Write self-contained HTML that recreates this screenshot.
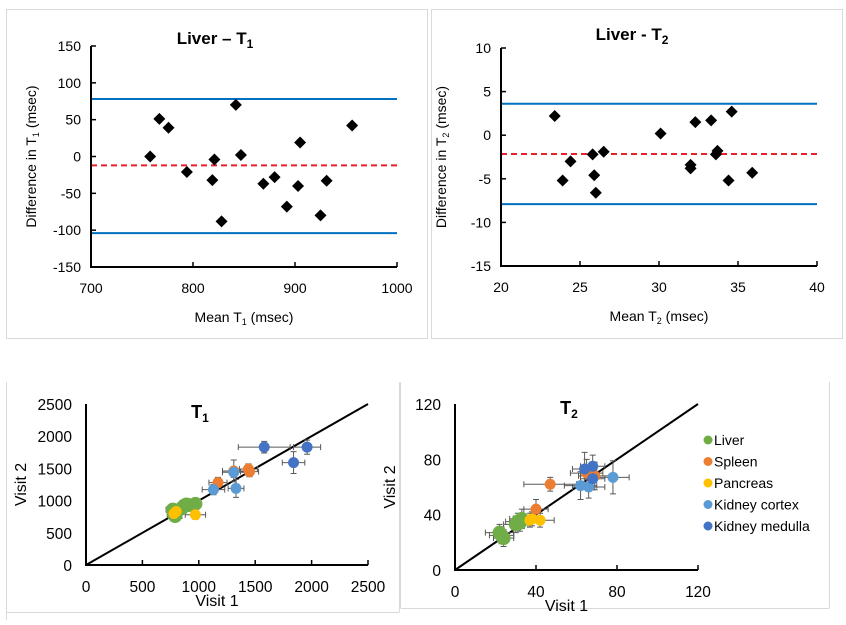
<!DOCTYPE html>
<html><head><meta charset="utf-8"><style>
body{margin:0;background:#fff;width:846px;height:620px;overflow:hidden;font-family:"Liberation Sans",Arial,sans-serif}
svg text{font-family:"Liberation Sans",Arial,sans-serif;fill:#000}
</style></head><body>
<svg id="fig" width="846" height="620" xmlns="http://www.w3.org/2000/svg">
<rect x="6.5" y="9.5" width="421" height="329" fill="none" stroke="#d9d9d9"/>
<rect x="431.5" y="9.5" width="411" height="329" fill="none" stroke="#d9d9d9"/>
<line x1="6.5" y1="382" x2="6.5" y2="620" stroke="#d9d9d9"/>
<line x1="399.5" y1="382" x2="399.5" y2="612" stroke="#d9d9d9"/>
<line x1="6.5" y1="612.5" x2="399.5" y2="612.5" stroke="#d9d9d9"/>
<line x1="400.5" y1="382" x2="400.5" y2="608" stroke="#d9d9d9"/>
<line x1="829.5" y1="382" x2="829.5" y2="608" stroke="#d9d9d9"/>
<line x1="400.5" y1="608.5" x2="829.5" y2="608.5" stroke="#d9d9d9"/>
<g id="g"></g>
</svg>
<script>
// Bland-Altman Liver T1
const baT1Mean=[758,767,776,794,819,821,828,842,847,869,880,892,903,905,925,931,956];
const baT1Diff=[0,51,39,-21,-32,-4,-88,70,2,-37,-28,-68,-40,19,-80,-33,42];
const baT1Limits=[78,-104];
const baT1Bias=[-12];
const baT1XTicks=[700,800,900,1000];
const baT1YTicks=[150,100,50,0,-50,-100,-150];
// Bland-Altman Liver T2
const baT2Mean=[23.4,23.9,24.4,25.8,25.9,26.0,26.5,30.1,32.0,32.0,32.3,33.3,33.7,33.6,34.4,34.6,35.9];
const baT2Diff=[2.2,-5.2,-3.0,-2.2,-4.6,-6.6,-1.9,0.2,-3.8,-3.4,1.5,1.7,-1.8,-2.2,-5.2,2.7,-4.3];
const baT2Limits=[3.6,-7.9];
const baT2Bias=[-2.15];
const baT2XTicks=[20,25,30,35,40];
const baT2YTicks=[10,5,0,-5,-10,-15];
// Visit correlation T1
const t1Organ=["Liver","Liver","Liver","Liver","Liver","Liver","Liver","Liver","Pancreas","Pancreas","Pancreas","Spleen","Spleen","Spleen","Spleen","Kidney cortex","Kidney cortex","Kidney cortex","Kidney medulla","Kidney medulla","Kidney medulla"];
const t1V1=[770,790,850,870,890,910,970,780,780,800,970,1170,1310,1440,1450,1130,1310,1330,1580,1960,1840];
const t1V2=[860,760,880,920,940,930,950,790,800,830,780,1280,1460,1490,1450,1170,1440,1190,1830,1830,1590];
const t1ErrX=[60,60,60,60,60,50,40,60,50,50,90,80,100,80,80,100,100,70,230,120,100];
const t1ErrY=[80,70,90,90,80,80,60,80,60,60,70,80,170,80,80,80,80,140,90,110,170];
const t1Ticks=[0,500,1000,1500,2000,2500];
// Visit correlation T2
const t2Organ=["Liver","Liver","Liver","Liver","Liver","Liver","Liver","Pancreas","Pancreas","Pancreas","Spleen","Spleen","Spleen","Spleen","Kidney cortex","Kidney cortex","Kidney cortex","Kidney medulla","Kidney medulla","Kidney medulla"];
const t2V1=[22,23,24,30,31,33,32,37,38,42,47,40,65,69,62,66,78,64,68,68];
const t2V2=[27,25,23,33,35,37,34,36,37,36,62,44,70,68,61,60,67,73,75,66];
const t2ErrX=[7,6,5,6,6,6,5,5,5,7,13,6,8,8,8,8,8,6,6,6];
const t2ErrY=[6,6,6,6,6,7,6,5,5,5,5,7,10,10,10,8,12,12,8,8];
const t2Ticks=[0,40,80,120];
const legendNames=["Liver","Spleen","Pancreas","Kidney cortex","Kidney medulla"];
const colors={"Liver":"#70ad47","Spleen":"#ed7d31","Pancreas":"#ffc000","Kidney cortex":"#5b9bd5","Kidney medulla":"#4472c4"};

const NS="http://www.w3.org/2000/svg";
const G=document.getElementById('g');
function mk(tag,attrs,parent){const e=document.createElementNS(NS,tag);for(const k in attrs)e.setAttribute(k,attrs[k]);(parent||G).appendChild(e);return e;}
function txt(s,x,y,size,anchor,parent){const t=mk('text',{x:x,y:y,'font-size':size,'text-anchor':anchor||'middle'},parent);t.textContent=s;return t;}
function lin(d0,d1,r0,r1){return v=>r0+(v-d0)/(d1-d0)*(r1-r0);}

function bland(name,mean,diff,limits,bias,xt,yt,L,R,T,B,title,sub,xlab,ylabSub,titleX,titleY){
  const g=mk('g',{});
  
  
  const X=lin(xt[0],xt[xt.length-1],L,R), Y=lin(yt[yt.length-1],yt[0],B,T);
  const tt=txt(title,titleX,titleY,17,'middle',g);tt.setAttribute('font-weight','bold');
  const ts=mk('tspan',{'font-size':12,dy:4},tt);ts.textContent=sub;
  
  limits.forEach(v=>{const l=mk('line',{x1:L,x2:R,y1:Y(v),y2:Y(v),stroke:'#0070c0','stroke-width':2},g);
    });
  bias.forEach(v=>{const l=mk('line',{x1:L,x2:R,y1:Y(v),y2:Y(v),stroke:'#e8202a','stroke-width':2,'stroke-dasharray':'6,4'},g);
    });
  const ax=mk('path',{d:`M${L},${T} V${B} H${R}`,fill:'none',stroke:'#000','stroke-width':2},g);
  
  yt.forEach(v=>{mk('line',{x1:L,x2:L+5,y1:Y(v),y2:Y(v),stroke:'#000','stroke-width':1.5},g);
    const t=txt(String(v),L-10,Y(v)+5,14,'end',g);});
  xt.forEach(v=>{mk('line',{x1:X(v),x2:X(v),y1:B,y2:B-5,stroke:'#000','stroke-width':1.5},g);
    const t=txt(String(v),X(v),B+26,14,'middle',g);});
  mean.forEach((m,i)=>{const x=X(m),y=Y(diff[i]);
    const p=mk('path',{d:`M${x},${y-6} L${x+6},${y} L${x},${y+6} L${x-6},${y}Z`,fill:'#000'},g);
    });
  const xl=txt('Mean T',(L+R)/2,B+55,14,'middle',g);
  const s1=mk('tspan',{'font-size':9,dy:3},xl);s1.textContent=sub;
  const s2=mk('tspan',{dy:-3},xl);s2.textContent=' (msec)';
  
  const yl=txt('Difference in T',0,0,14,'middle',g);
  yl.setAttribute('transform',`translate(${L-55},${(T+B)/2}) rotate(-90)`);
  const s3=mk('tspan',{'font-size':9,dy:3},yl);s3.textContent=sub;
  const s4=mk('tspan',{dy:-3},yl);s4.textContent='  (msec)';
  
}
bland('liver-t1-bland-altman',baT1Mean,baT1Diff,baT1Limits,baT1Bias,baT1XTicks,baT1YTicks,91,397,46,267,'Liver – T','1','','',215,44);
bland('liver-t2-bland-altman',baT2Mean,baT2Diff,baT2Limits,baT2Bias,baT2XTicks,baT2YTicks,501,817,48,266,'Liver - T','2','','',632,40);

function corr(name,organ,v1,v2,ex,ey,ticks,L,R,T,B,sub,titleX,titleY,rLiver,r){
  const g=mk('g',{});
  
  
  const mx=ticks[ticks.length-1];
  const X=lin(0,mx,L,R),Y=lin(0,mx,B,T);
  const tt=txt('T',titleX,titleY,18,'middle',g);tt.setAttribute('font-weight','bold');
  const ts=mk('tspan',{'font-size':12,dy:4},tt);ts.textContent=sub;
  
  const id=mk('line',{x1:X(0),y1:Y(0),x2:X(mx),y2:Y(mx),stroke:'#000','stroke-width':2},g);
  
  const ax=mk('path',{d:`M${L},${T} V${B} H${R}`,fill:'none',stroke:'#000','stroke-width':2},g);
  
  ticks.forEach(v=>{
    mk('line',{x1:X(v),x2:X(v),y1:B,y2:B-5,stroke:'#000','stroke-width':1.5},g);
    const a=txt(String(v),X(v),B+27,15.5,'middle',g);
    const b=txt(String(v),L-14,Y(v)+6,15.5,'end',g);
  });
  v1.forEach((a,i)=>{const x=X(a),y=Y(v2[i]);
    const x0=X(a-ex[i]),x1=X(a+ex[i]),y0=Y(v2[i]-ey[i]),y1=Y(v2[i]+ey[i]);
    const e=mk('path',{d:`M${x0},${y}H${x1}M${x0},${y-3}v6M${x1},${y-3}v6M${x},${y0}V${y1}M${x-3},${y0}h6M${x-3},${y1}h6`,stroke:'#595959','stroke-width':1,fill:'none'},g);
    
  });
  v1.forEach((a,i)=>{
    const c=mk('circle',{cx:X(a),cy:Y(v2[i]),r:organ[i]==='Liver'?rLiver:r,fill:colors[organ[i]]},g);
    
  });
  const xl=txt('Visit 1',(L+R)/2-10,B+41,16,'middle',g);
  const yl=txt('Visit 2',0,0,16,'middle',g);yl.setAttribute('transform',`translate(${L-60},${(T+B)/2}) rotate(-90)`);
  
}
corr('t1-visit-scatter',t1Organ,t1V1,t1V2,t1ErrX,t1ErrY,t1Ticks,86,368,404,565,'1',200,418,7,5.5);
corr('t2-visit-scatter',t2Organ,t2V1,t2V2,t2ErrX,t2ErrY,t2Ticks,455,698,404,570,'2',569,414,7,5.5);

const lg=mk('g',{});


legendNames.forEach((n,i)=>{const y=440+i*21.5;
  const c=mk('circle',{cx:708,cy:y,r:4.5,fill:colors[n]},lg);
  
  const t=txt(n,714,y+5,14,'start',lg);
  
});
</script>
</body></html>
